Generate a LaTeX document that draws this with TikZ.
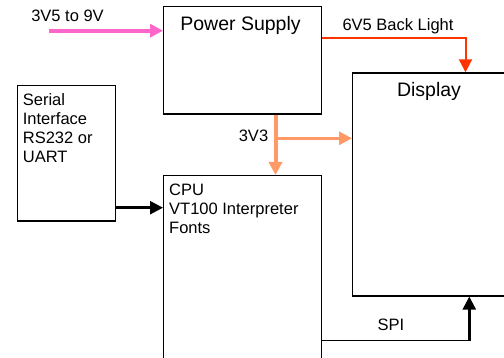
\documentclass[tikz,border=0pt]{standalone}
\usepackage{fontspec}
\setmainfont{Liberation Sans}
\usetikzlibrary{arrows.meta, positioning, calc}
\definecolor{vinpink}{RGB}{255,102,204}
\definecolor{blred}{RGB}{255,51,0}
\definecolor{rail}{RGB}{255,153,102}

\begin{document}
\begin{tikzpicture}[
    x=1pt, y=-1pt,
    blk/.style={draw, line width=1.3pt, inner sep=0pt, anchor=north west},
    ttl/.style={font=\fontsize{19.5}{22}\selectfont, inner sep=0pt, anchor=base},
    txt/.style={font=\fontsize{16.5}{19}\selectfont, inner sep=0pt,
                align=left, anchor=north west},
    lbl/.style={font=\fontsize{16.5}{19}\selectfont, inner sep=0pt, anchor=base},
    arr/.style={-{Triangle[length=13pt, width=13pt]}},
]
\useasboundingbox (0,0) rectangle (504,358);
\clip (0,0) rectangle (504,358);

% blocks
\node[blk, minimum width=158, minimum height=107.5] (psu) at (163,6) {};
\node[blk, minimum width=170, minimum height=223] (disp) at (352,72.3) {};
\node[blk, minimum width=98, minimum height=135.5] (serial) at (17,85) {};
\node[blk, minimum width=158, minimum height=205] (cpu) at (163,175) {};

\node[ttl] (psutxt) at (240.5,31) {Power Supply};
\node[ttl] (disptxt) at (429,97) {Display};
\node[txt] (serialtxt) at (22.7,93) {Serial\\Interface\\RS232 or\\UART};
\node[txt] (cputxt) at (169,184) {CPU\\VT100 Interpreter\\Fonts};

% turning points
\coordinate (vin) at (49,30.7);
\coordinate (bl) at (465.5,38.3);
\coordinate (tap) at (275.5,138.3);
\coordinate (rx) at (0,207.7);
\coordinate (spi) at (469.3,340.7);

% supply
\draw[arr, vinpink, line width=4pt] (vin) -- (vin -| psu.west);
\draw[arr, blred, line width=2pt] (psu.east |- bl) -| (bl |- disp.north);
\draw[arr, rail, line width=4pt] (tap |- psu.south) -- (tap |- cpu.north);
\draw[arr, rail, line width=3pt] (tap) -- (tap -| disp.west);

% data
\draw[arr, line width=2.5pt] (serial.east |- rx) -- (cpu.west |- rx);
\draw[line width=1.3pt] (cpu.east |- spi) -- (spi);
\draw[arr, line width=2.5pt] (spi) -- (spi |- disp.south);

% labels
\node[lbl] (vinlbl) at (67.5,22) {3V5 to 9V};
\node[lbl] (bllbl) at (398,30.2) {6V5 Back Light};
\node[lbl] (raillbl) at (253.5,142) {3V3};
\node[lbl] (spilbl) at (391,331) {SPI};

\end{tikzpicture}
\end{document}
